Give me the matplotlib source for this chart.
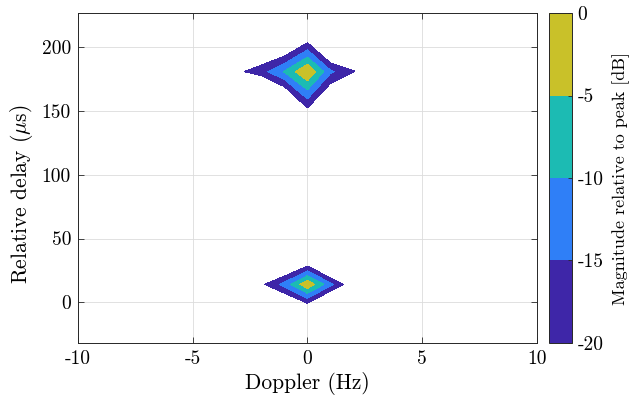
import numpy as np
import matplotlib
matplotlib.use("Agg")
import matplotlib.pyplot as plt

plt.rcParams['font.family'] = 'cmr10'
plt.rcParams['mathtext.fontset'] = 'cm'
plt.rcParams['axes.unicode_minus'] = False
plt.rcParams['axes.formatter.use_mathtext'] = True

# grid (doppler in Hz, delay in us, values in dB)
doppler = [-3, -2, -1, 0, 1, 2, 3]
delay = [-2, 14, 30, 151, 181, 206]
mag_db = [
    [-40, -40, -29, -21.5, -33, -40, -40],
    [-40, -21, -13.1, -1, -13.5, -25, -40],
    [-40, -40, -30, -22.1, -33.5, -40, -40],
    [-40, -45, -36, -21, -33.2, -44, -40],
    [-20.9, -17, -9.5, 0, -14, -19.6, -25],
    [-40, -31.4, -31, -22, -36, -31, -40],
]
levels = [-20, -15, -10, -5, 0]
band_colors = ['#3E26A8', '#2F7FF7', '#1CBBB3', '#C9C129']

xticks = [-10, -5, 0, 5, 10]
yticks = [0, 50, 100, 150, 200]
cticks = [-20, -15, -10, -5, 0]

fig = plt.figure(figsize=(6.36, 4.03), dpi=100)
ax = fig.add_axes([0.1226, 0.1489, 0.7217, 0.8188])
cax = fig.add_axes([0.8632, 0.1489, 0.0362, 0.8188])

cs = ax.contourf(doppler, delay, np.array(mag_db), levels=levels, colors=band_colors)

ax.set_xlim(-10, 10)
ax.set_ylim(-32, 227)
ax.set_xticks(xticks)
ax.set_xticklabels([str(t) for t in xticks])
ax.set_yticks(yticks)
ax.set_yticklabels([str(t) for t in yticks])
ax.grid(True, color='#dcdcdc', linewidth=0.6)
ax.set_axisbelow(True)
ax.tick_params(direction='in', top=True, right=True, length=4, width=0.6,
               labelsize=14, color='#262626', pad=5)
for s in ax.spines.values():
    s.set_color('#262626')
    s.set_linewidth(0.7)
ax.set_xlabel('Doppler (Hz)', fontsize=15.5, labelpad=3)
ax.set_ylabel(r'Relative delay ($\mu$s)', fontsize=15.5)
ax.yaxis.set_label_coords(-0.094, 0.45)

cb = fig.colorbar(cs, cax=cax)
cb.set_ticks(cticks)
cb.set_ticklabels([str(t) for t in cticks])
cb.ax.tick_params(direction='in', length=3, width=0.6, labelsize=14, color='#262626', pad=4)
cb.outline.set_edgecolor('#262626')
cb.outline.set_linewidth(0.7)
cb.set_label('Magnitude relative to peak [dB]', fontsize=13, labelpad=6)

fig.savefig('out.png', dpi=100)
